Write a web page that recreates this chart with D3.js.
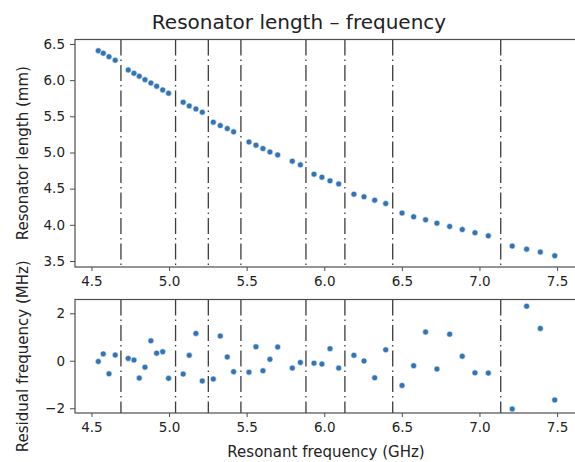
<!DOCTYPE html>
<html>
<head>
<meta charset="utf-8">
<script src="https://cdn.jsdelivr.net/npm/d3@7"></script>
<style>
  body { margin: 0; background: #fff; }
  svg text { font-family: "DejaVu Sans", sans-serif; fill: #222; }
</style>
</head>
<body>
<div id="wrapper"></div>
<script>
// resonant frequency (GHz)
const frequency = [
  4.544, 4.576, 4.613, 4.653,
  4.737, 4.774, 4.808, 4.845, 4.883, 4.920, 4.959, 4.997,
  5.091, 5.130, 5.173, 5.214,
  5.285, 5.330, 5.375, 5.416,
  5.515, 5.560, 5.605, 5.650, 5.700,
  5.794, 5.846,
  5.934, 5.985, 6.037, 6.093,
  6.191, 6.256, 6.325, 6.396,
  6.501, 6.576, 6.653, 6.726, 6.808, 6.889, 6.971, 7.057,
  7.211, 7.304, 7.392, 7.485
]

// resonator length (mm)
const length = [
  6.407, 6.372, 6.325, 6.275,
  6.141, 6.095, 6.054, 6.007, 5.961, 5.916, 5.865, 5.819,
  5.695, 5.644, 5.602, 5.557,
  5.419, 5.372, 5.330, 5.285,
  5.146, 5.101, 5.054, 5.008, 4.967,
  4.880, 4.829,
  4.700, 4.659, 4.608, 4.566,
  4.424, 4.387, 4.341, 4.294,
  4.162, 4.110, 4.069, 4.023, 3.977, 3.935, 3.890, 3.848,
  3.706, 3.664, 3.623, 3.572
]

// residual frequency (MHz)
const residual = [
  -0.03, 0.29, -0.55, 0.24,
  0.10, 0.03, -0.73, -0.27, 0.84, 0.32, 0.38, -0.74,
  -0.56, 0.23, 1.15, -0.85,
  -0.77, 1.04, 0.16, -0.46,
  -0.48, 0.59, -0.42, 0.06, 0.58,
  -0.31, -0.07,
  -0.10, -0.14, 0.51, -0.31,
  0.23, -0.01, -0.72, 0.46,
  -1.04, -0.21, 1.21, -0.35, 1.12, 0.19, -0.51, -0.52,
  -2.03, 2.30, 1.36, -1.65
]

// group boundaries (GHz), dash-dot lines
const boundaries = [4.690, 5.042, 5.253, 5.463, 5.882, 6.133, 6.441, 7.137]

const xTicks = [4.5, 5.0, 5.5, 6.0, 6.5, 7.0, 7.5]
const topTicks = [3.5, 4.0, 4.5, 5.0, 5.5, 6.0, 6.5]
const bottomTicks = [-2, 0, 2]

const data = frequency.map((f, i) => ({ f, len: length[i], res: residual[i] }))

const width = 575
const height = 462

const wrapper = d3.select("#wrapper")
  .append("svg")
  .attr("width", width)
  .attr("height", height)

const xScale = d3.scaleLinear()
  .domain([4.394, 7.622])
  .range([75, 576])

const topScale = d3.scaleLinear()
  .domain([3.417, 6.562])
  .range([267, 39.5])

const bottomScale = d3.scaleLinear()
  .domain([-2.2, 2.58])
  .range([413, 299.5])

const dotColor = "#3274b5"
const spineColor = "#4d4d4d"

function drawPanel(yScale, yTicks, yFormat, yAccessor) {
  const [y1, y0] = yScale.range()
  const [x0, x1] = xScale.range()
  const g = wrapper.append("g")

  // dash-dot group boundaries
  g.selectAll(".boundary")
    .data(boundaries)
    .join("line")
    .attr("x1", d => xScale(d))
    .attr("x2", d => xScale(d))
    .attr("y1", y0)
    .attr("y2", y1)
    .attr("stroke", "#3c3c3c")
    .attr("stroke-width", 1.3)
    .attr("stroke-dasharray", "16,4,1.5,4")

  // points
  g.selectAll(".dot")
    .data(data)
    .join("circle")
    .attr("cx", d => xScale(d.f))
    .attr("cy", d => yScale(yAccessor(d)))
    .attr("r", 3)
    .attr("fill", dotColor)
    .attr("stroke", "#fff")
    .attr("stroke-width", 0.6)

  // frame
  g.append("rect")
    .attr("x", x0)
    .attr("y", y0)
    .attr("width", x1 - x0)
    .attr("height", y1 - y0)
    .attr("fill", "none")
    .attr("stroke", spineColor)
    .attr("stroke-width", 1.2)

  const xAxis = g.append("g")
    .attr("transform", `translate(0, ${y1})`)
    .call(d3.axisBottom(xScale).tickValues(xTicks).tickFormat(d3.format(".1f")).tickSizeOuter(0).tickSize(4).tickPadding(5))
  xAxis.select(".domain").remove()

  const yAxis = g.append("g")
    .attr("transform", `translate(${x0}, 0)`)
    .call(d3.axisLeft(yScale).tickValues(yTicks).tickFormat(yFormat).tickSizeOuter(0).tickSize(5).tickPadding(5))
  yAxis.select(".domain").remove()

  g.selectAll(".tick line").attr("stroke", spineColor).attr("stroke-width", 1)
  g.selectAll(".tick text").style("font-size", "13.5px").attr("fill", "#222")
}

drawPanel(topScale, topTicks, d3.format(".1f"), d => d.len)
drawPanel(bottomScale, bottomTicks, d => d < 0 ? "\u2212" + Math.abs(d) : d, d => d.res)

// titles and labels
wrapper.append("text")
  .attr("x", 299)
  .attr("y", 29)
  .attr("text-anchor", "middle")
  .style("font-size", "20px")
  .text("Resonator length \u2013 frequency")

wrapper.append("text")
  .attr("x", 326)
  .attr("y", 457)
  .attr("text-anchor", "middle")
  .style("font-size", "15px")
  .text("Resonant frequency (GHz)")

wrapper.append("text")
  .attr("transform", `translate(28, ${(39.5 + 267) / 2}) rotate(-90)`)
  .attr("text-anchor", "middle")
  .style("font-size", "15px")
  .text("Resonator length (mm)")

wrapper.append("text")
  .attr("transform", `translate(28, ${(299.5 + 413) / 2}) rotate(-90)`)
  .attr("text-anchor", "middle")
  .style("font-size", "15px")
  .text("Residual frequency (MHz)")
</script>
</body>
</html>
